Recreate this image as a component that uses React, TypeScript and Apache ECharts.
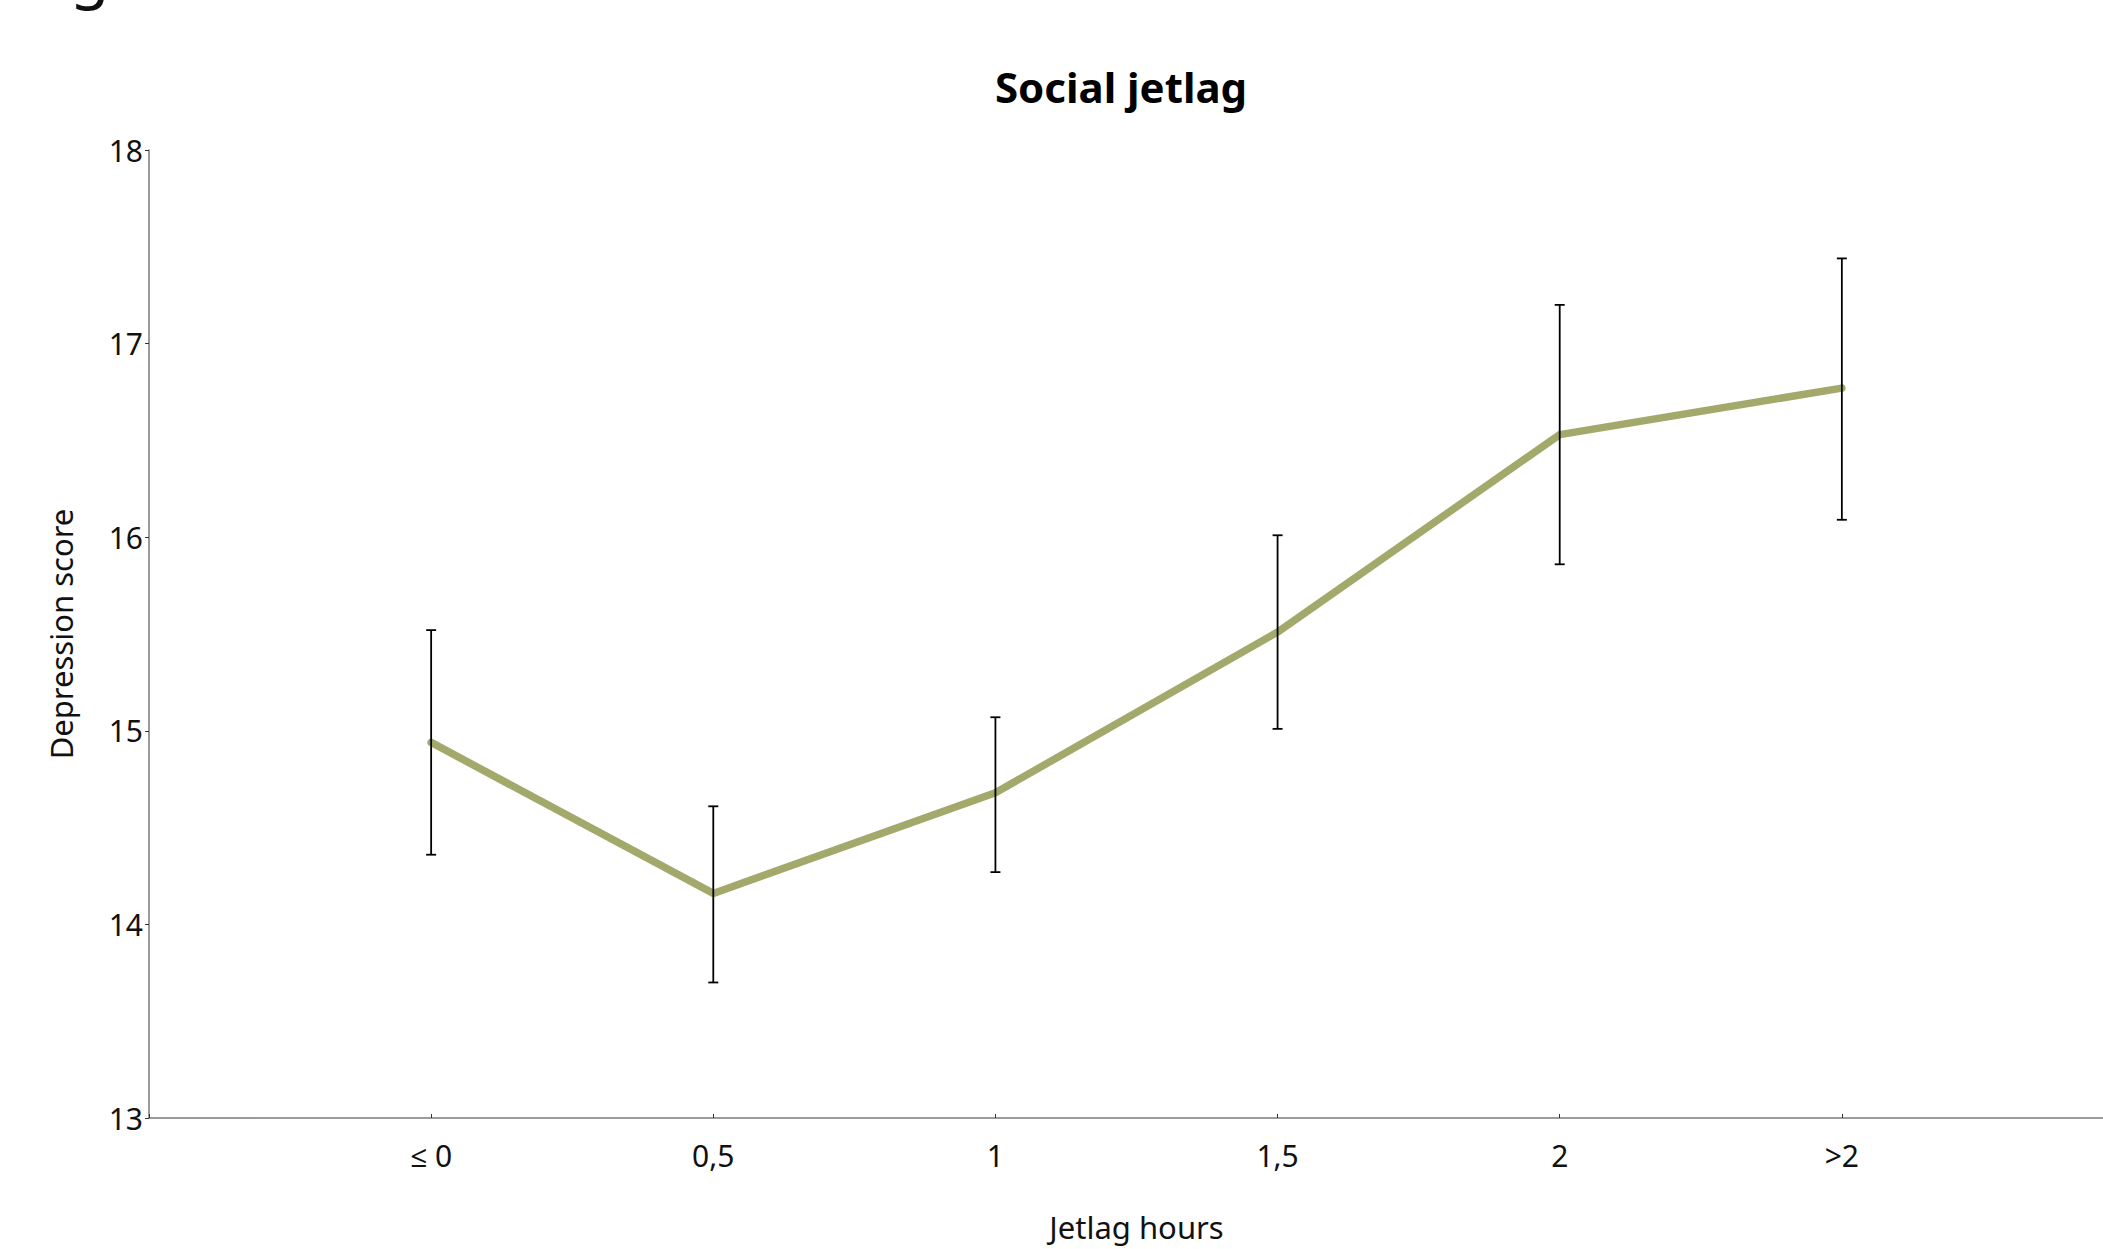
import React, { useEffect, useRef } from "react";
import * as echarts from "echarts";

// Jetlag categories and their positions on the x scale
const categories = ["≤ 0", "0,5", "1", "1,5", "2", ">2"];
const positions = [1, 2, 3, 4, 5, 6];

// Mean depression score per category
const meanScore = [14.94, 14.16, 14.68, 15.51, 16.53, 16.77];
// Error bar bounds
const lowerBound = [14.36, 13.7, 14.27, 15.01, 15.86, 16.09];
const upperBound = [15.52, 14.61, 15.07, 16.01, 17.2, 17.44];

const yTicks = [13, 14, 15, 16, 17, 18];

const FONT = "'Noto Sans', 'Open Sans', sans-serif";

export default function App() {
  const ref = useRef<HTMLDivElement>(null);

  useEffect(() => {
    if (!ref.current) return;
    const chart = echarts.init(ref.current, null, { renderer: "svg" });

    const lineData = positions.map((p, i) => [p, meanScore[i]]);
    const barData = positions.map((p, i) => [p, lowerBound[i], upperBound[i]]);

    chart.setOption({
      animation: false,
      backgroundColor: "#ffffff",
      title: {
        text: "Social jetlag",
        left: 1116,
        top: 60,
        textAlign: "center",
        textStyle: {
          fontFamily: FONT,
          fontSize: 42,
          fontWeight: "bold",
          color: "#000000",
        },
      },
      graphic: [
        {
          type: "text",
          left: 70,
          top: -61,
          style: {
            text: "g",
            fontFamily: FONT,
            fontSize: 64,
            fill: "#111111",
          },
        },
      ],
      grid: { left: 149, right: 0, top: 150, bottom: 131, containLabel: false },
      xAxis: {
        type: "value",
        min: 0,
        max: 7,
        interval: 1,
        name: "Jetlag hours",
        nameLocation: "middle",
        nameGap: 93,
        nameTextStyle: { fontFamily: FONT, fontSize: 31, color: "#111111" },
        axisLine: { show: true, onZero: false, lineStyle: { color: "#7a7a7a", width: 1.5 } },
        axisTick: { show: true, inside: true, length: 4, lineStyle: { color: "#333333", width: 1 } },
        splitLine: { show: false },
        axisLabel: {
          fontFamily: FONT,
          fontSize: 30,
          color: "#111111",
          margin: 22,
          formatter: (v: number) => {
            const idx = positions.indexOf(v);
            return idx >= 0 ? categories[idx] : "";
          },
        },
      },
      yAxis: {
        type: "value",
        min: yTicks[0],
        max: yTicks[yTicks.length - 1],
        interval: 1,
        name: "Depression score",
        nameLocation: "middle",
        nameGap: 73,
        nameTextStyle: { fontFamily: FONT, fontSize: 31, color: "#111111" },
        axisLine: { show: true, lineStyle: { color: "#7a7a7a", width: 1.5 } },
        axisTick: { show: true, inside: false, length: 4, lineStyle: { color: "#333333", width: 1 } },
        splitLine: { show: false },
        axisLabel: {
          fontFamily: FONT,
          fontSize: 30,
          color: "#111111",
          margin: 6,
        },
      },
      series: [
        {
          type: "line",
          data: lineData,
          showSymbol: false,
          symbol: "none",
          lineStyle: { color: "#a2a96b", width: 7.5, cap: "round", join: "round" },
          z: 2,
        },
        {
          type: "custom",
          data: barData,
          z: 3,
          renderItem: (params: any, api: any) => {
            const x = api.value(0);
            const lo = api.coord([x, api.value(1)]);
            const hi = api.coord([x, api.value(2)]);
            const half = 5;
            const style = { stroke: "#000000", lineWidth: 1.8 };
            return {
              type: "group",
              children: [
                { type: "line", shape: { x1: lo[0], y1: lo[1], x2: hi[0], y2: hi[1] }, style },
                { type: "line", shape: { x1: hi[0] - half, y1: hi[1], x2: hi[0] + half, y2: hi[1] }, style },
                { type: "line", shape: { x1: lo[0] - half, y1: lo[1], x2: lo[0] + half, y2: lo[1] }, style },
              ],
            };
          },
        },
      ],
    });

    return () => chart.dispose();
  }, []);

  // The plot runs a little past the right edge of the view, so the chart is wider than its frame
  return (
    <div style={{ position: "fixed", left: 0, top: 0, width: 2103, height: 1249, overflow: "hidden" }}>
      <div ref={ref} style={{ width: 2127, height: 1249 }} />
    </div>
  );
}
